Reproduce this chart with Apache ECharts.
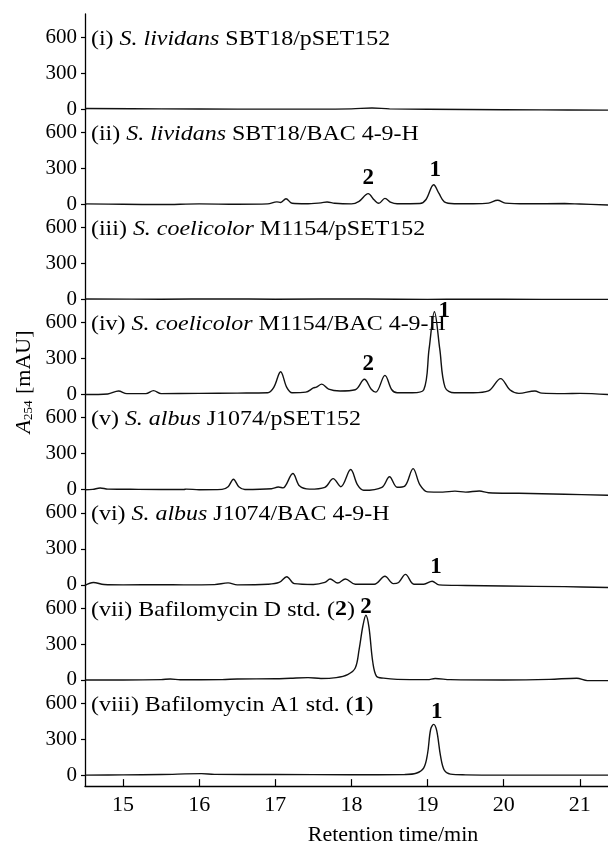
<!DOCTYPE html>
<html>
<head>
<meta charset="utf-8">
<script src="https://cdn.jsdelivr.net/npm/echarts@6/dist/echarts.min.js"></script>
<style>
  html, body { margin: 0; padding: 0; background: #fff; }
  #chart { width: 608px; height: 843px; }
</style>
</head>
<body>
<div id="chart"></div>
<script>
// retention time (min) vs A254 (mAU), one trace per panel
const traceI = [[14.5,5],[15.5,2],[16.5,0],[17.5,0],[18.0,2],[18.27,10],[18.5,2],[19.5,-3],[20.5,-6],[21.37,-8]];
const traceII = [[14.5,3],[15.0,0],[15.5,-2],[16.0,3],[16.5,0],[16.9,3],[17.02,20],[17.07,15],[17.14,46],[17.22,8],[17.4,4],[17.6,12],[17.68,19],[17.78,8],[18.0,3],[18.1,25],[18.22,89],[18.3,35],[18.36,8],[18.44,49],[18.52,15],[18.6,4],[18.9,6],[18.98,40],[19.08,163],[19.15,90],[19.22,20],[19.35,5],[19.6,5],[19.8,10],[19.92,33],[20.02,10],[20.3,4],[20.8,6],[21.0,2],[21.37,-6]];
const traceIII = [[14.5,3],[15.5,2],[16.3,4],[17.0,2],[18.2,4],[19.0,0],[19.5,2],[20.5,0],[21.37,0]];
const traceIV = [[14.5,0],[14.8,5],[14.94,30],[15.05,8],[15.3,8],[15.4,33],[15.5,8],[16.0,10],[16.5,12],[16.9,15],[16.98,60],[17.07,190],[17.15,60],[17.22,15],[17.4,20],[17.5,55],[17.54,62],[17.61,87],[17.7,45],[17.85,30],[18.05,40],[18.17,127],[18.26,45],[18.32,20],[18.44,160],[18.53,40],[18.6,15],[18.8,15],[18.95,40],[19.02,380],[19.09,690],[19.16,380],[19.23,60],[19.35,15],[19.6,15],[19.8,30],[19.96,133],[20.08,40],[20.2,10],[20.41,30],[20.5,12],[20.8,8],[21.0,10],[21.37,0]];
const traceV = [[14.5,0],[14.6,3],[14.7,14],[14.8,5],[15.2,3],[15.8,2],[15.83,5],[16.0,0],[16.3,3],[16.38,25],[16.45,87],[16.52,25],[16.6,2],[16.95,8],[17.04,22],[17.1,15],[17.23,135],[17.32,30],[17.45,5],[17.65,20],[17.76,92],[17.86,25],[17.99,168],[18.08,40],[18.16,-5],[18.4,20],[18.5,108],[18.6,20],[18.7,30],[18.81,176],[18.9,40],[19.0,-18],[19.2,-20],[19.36,-12],[19.5,-20],[19.68,-11],[19.8,-25],[20.2,-30],[20.8,-38],[21.37,-46]];
const traceVI = [[14.5,-5],[14.61,19],[14.75,3],[15.0,0],[15.5,2],[15.8,0],[16.2,2],[16.38,16],[16.5,0],[16.9,5],[17.05,20],[17.15,68],[17.25,10],[17.5,3],[17.65,20],[17.72,49],[17.82,15],[17.92,49],[18.05,5],[18.3,5],[18.44,71],[18.55,10],[18.62,20],[18.71,87],[18.82,5],[18.95,5],[19.06,30],[19.15,0],[19.5,-5],[20.0,-10],[20.8,-15],[21.37,-22]];
const traceVII = [[14.5,0],[15.0,0],[15.5,3],[15.62,8],[15.75,2],[16.3,3],[16.5,8],[17.0,10],[17.2,15],[17.43,20],[17.6,12],[17.8,20],[17.95,45],[18.05,100],[18.1,250],[18.15,450],[18.19,540],[18.23,440],[18.28,150],[18.33,30],[18.42,15],[18.6,5],[19.0,3],[19.1,12],[19.3,3],[20.0,0],[20.6,5],[20.96,15],[21.1,-5],[21.37,-5]];
const traceVIII = [[14.5,0],[15.0,2],[15.5,5],[16.03,12],[16.2,6],[17.0,5],[18.0,3],[18.7,5],[18.85,15],[18.95,60],[19.0,180],[19.04,380],[19.08,423],[19.12,370],[19.17,160],[19.22,40],[19.3,8],[19.5,2],[20.0,0],[21.37,0]];

const traces = [traceI, traceII, traceIII, traceIV, traceV, traceVI, traceVII, traceVIII];

// panel captions, rich text: {it|..} italic, {b|..} bold
const panelLabels = [
  '(i) {it|S. lividans} SBT18/pSET152',
  '(ii) {it|S. lividans} SBT18/BAC 4-9-H',
  '(iii) {it|S. coelicolor} M1154/pSET152',
  '(iv) {it|S. coelicolor} M1154/BAC 4-9-H',
  '(v) {it|S. albus} J1074/pSET152',
  '(vi) {it|S. albus} J1074/BAC 4-9-H',
  '(vii) Bafilomycin D std. ({b|2})',
  '(viii) Bafilomycin A1 std. ({b|1})'
];

// compound numbers above peaks: [panel, time, value]
const peakMarks = [
  [1, 18.22, 216, '2'], [1, 19.10, 285, '1'],
  [3, 18.22, 252, '2'], [3, 19.22, 700, '1'],
  [5, 19.11, 149, '1'],
  [6, 18.19, 610, '2'],
  [7, 19.12, 528, '1']
];

const yTicks = [0, 300, 600];
const xTicks = [15, 16, 17, 18, 19, 20, 21];
const xMin = 14.5, xMax = 21.37;
const yMax = 793, yMinLast = -92;

const FONT = 'Liberation Serif, serif';
const TOP = 14, PANEL_H = 95.14, EXTRA = 11;

const chart = echarts.init(document.getElementById('chart'));

const grids = [], xAxes = [], yAxes = [], series = [];
traces.forEach((tr, i) => {
  const last = i === traces.length - 1;
  grids.push({
    left: 85, right: 0,
    top: TOP + PANEL_H * i,
    height: PANEL_H + (last ? EXTRA : 0)
  });
  xAxes.push({
    gridIndex: i, type: 'value', min: xMin, max: xMax,
    show: last,
    axisLine: { onZero: false, lineStyle: { color: '#000', width: 1.3 } },
    axisTick: { inside: true, length: 7, customValues: xTicks, lineStyle: { color: '#000', width: 1.2 } },
    axisLabel: { customValues: xTicks, fontSize: 22, fontFamily: FONT, color: '#000', margin: 8 },
    splitLine: { show: false }
  });
  yAxes.push({
    gridIndex: i, type: 'value', min: last ? yMinLast : 0, max: yMax,
    axisLine: { show: true, onZero: false, lineStyle: { color: '#000', width: 1.3 } },
    axisTick: { show: true, length: 4, customValues: yTicks, lineStyle: { color: '#000', width: 1.2 } },
    axisLabel: { customValues: yTicks, fontSize: 21, fontFamily: FONT, color: '#000', margin: 8 },
    splitLine: { show: false }
  });
  const marks = peakMarks.filter(m => m[0] === i).map(m => ({ name: m[3], coord: [m[1], m[2]] }));
  series.push({
    type: 'line', xAxisIndex: i, yAxisIndex: i,
    data: tr, showSymbol: false, smooth: 0.35, clip: false,
    lineStyle: { color: '#111', width: 1.4 },
    silent: true,
    markPoint: {
      symbol: 'circle', symbolSize: 1,
      itemStyle: { color: 'transparent' },
      label: {
        show: true, position: 'inside', formatter: '{b}',
        fontFamily: FONT, fontSize: 23, fontWeight: 'bold', color: '#000'
      },
      data: marks
    }
  });
});

chart.setOption({
  animation: false,
  backgroundColor: '#fff',
  grid: grids,
  xAxis: xAxes,
  yAxis: yAxes,
  series: series
});

// captions are pinned to the 600 tick of each panel
const rich = {
  it: { fontFamily: FONT, fontSize: 21, fontStyle: 'italic', fill: '#000' },
  b: { fontFamily: FONT, fontSize: 21, fontWeight: 'bold', fill: '#000' }
};
const graphics = panelLabels.map((txt, i) => {
  const p = chart.convertToPixel({ gridIndex: i }, [xMin, 600]);
  return {
    type: 'text', x: p[0] + 6, y: p[1] + 2, scaleX: 1.14,
    style: { text: txt, fontFamily: FONT, fontSize: 21, fill: '#000', verticalAlign: 'middle', rich: rich }
  };
});
graphics.push({
  type: 'text', x: 24, y: 382, rotation: Math.PI / 2,
  style: {
    text: '{a|A}{s|254} [mAU]', fontFamily: FONT, fontSize: 22, fill: '#000',
    align: 'center', verticalAlign: 'middle',
    rich: {
      a: { fontFamily: FONT, fontSize: 22, fontStyle: 'italic', fill: '#000' },
      s: { fontFamily: FONT, fontSize: 13, fill: '#000', verticalAlign: 'bottom', padding: [8, 1, 0, 0] }
    }
  }
});
graphics.push({
  type: 'text', x: 393, y: 835,
  style: { text: 'Retention time/min', fontFamily: FONT, fontSize: 22, fill: '#000', align: 'center', verticalAlign: 'middle' }
});
chart.setOption({ graphic: graphics });
</script>
</body>
</html>
